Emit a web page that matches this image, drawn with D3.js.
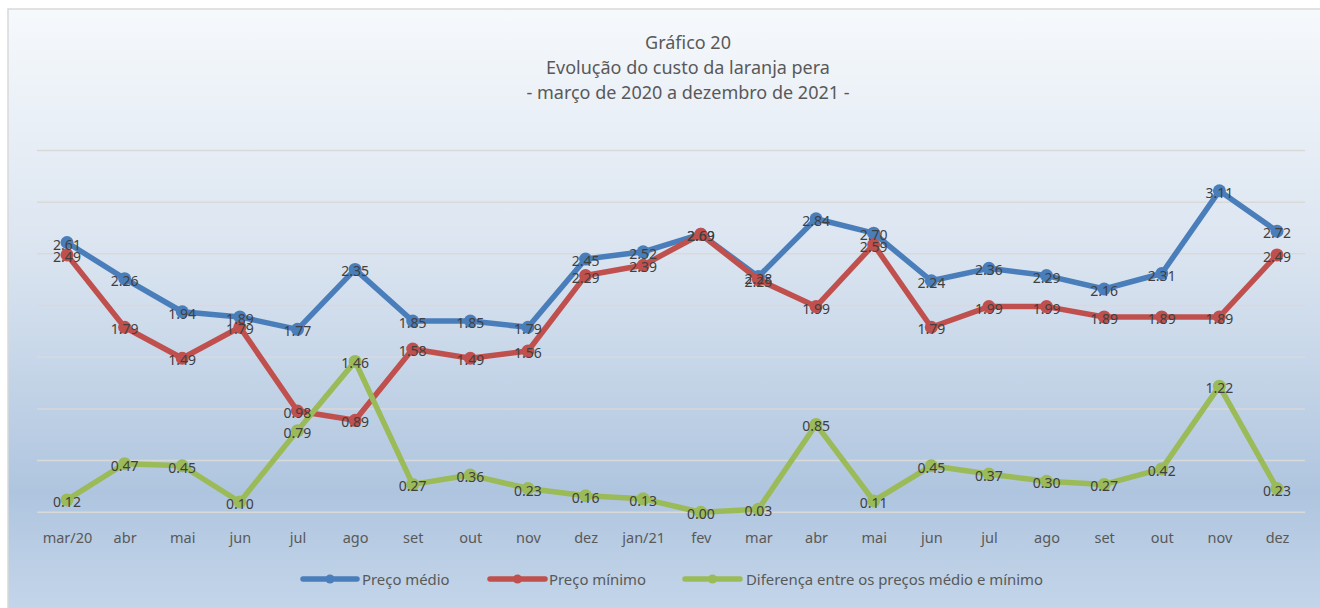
<!DOCTYPE html>
<html><head><meta charset="utf-8">
<script src="https://cdn.jsdelivr.net/npm/d3@7"></script>
<style>body{margin:0;background:#fff;}svg{display:block;}</style>
</head><body>
<svg id="c" width="1320" height="608"></svg>
<script>
const categories = ["mar/20","abr","mai","jun","jul","ago","set","out","nov","dez","jan/21","fev","mar","abr","mai","jun","jul","ago","set","out","nov","dez"];
const precoMedio = [2.61,2.26,1.94,1.89,1.77,2.35,1.85,1.85,1.79,2.45,2.52,2.69,2.28,2.84,2.70,2.24,2.36,2.29,2.16,2.31,3.11,2.72];
const precoMinimo = [2.49,1.79,1.49,1.79,0.98,0.89,1.58,1.49,1.56,2.29,2.39,2.69,2.25,1.99,2.59,1.79,1.99,1.99,1.89,1.89,1.89,2.49];
const diferenca = [0.12,0.47,0.45,0.10,0.79,1.46,0.27,0.36,0.23,0.16,0.13,0.00,0.03,0.85,0.11,0.45,0.37,0.30,0.27,0.42,1.22,0.23];
const seriesNames = ["Preço médio","Preço mínimo","Diferença entre os preços médio e mínimo"];
const seriesColors = ["#4a7ebb","#c0504d","#9bbb59"];
const yTicks = [0,0.5,1,1.5,2,2.5,3,3.5];
const titleLines = ["Gráfico 20","Evolução do custo da laranja pera","- março de 2020 a dezembro de 2021 -"];

const svg = d3.select("#c");
const font = "'Noto Sans', 'Open Sans', sans-serif";
const defs = svg.append("defs");
const grad = defs.append("linearGradient").attr("id","bg").attr("x1",0).attr("y1",0).attr("x2",0).attr("y2",1);
grad.append("stop").attr("offset","0%").attr("stop-color","#f6f9fc");
grad.append("stop").attr("offset","40%").attr("stop-color","#dae4f0");
grad.append("stop").attr("offset","78%").attr("stop-color","#afc5df");
grad.append("stop").attr("offset","100%").attr("stop-color","#c7d8eb");

svg.append("rect").attr("x",8).attr("y",9).attr("width",1330).attr("height",620)
  .attr("fill","url(#bg)").attr("stroke","#d9d9d9").attr("stroke-width",1.5);

// title
svg.append("g").selectAll("text").data(titleLines).join("text")
  .attr("x",688).attr("y",(d,i)=>42+i*25).attr("text-anchor","middle")
  .attr("dominant-baseline","central")
  .attr("font-family",font).attr("font-size",18).attr("fill","#595959").text(d=>d);

const x = d3.scalePoint().domain(d3.range(categories.length)).range([67,1277]);
const y = d3.scaleLinear().domain([0,3.5]).range([512.3,150.5]);

// gridlines
svg.append("g").selectAll("line").data(yTicks).join("line")
  .attr("x1",37).attr("x2",1305).attr("y1",d=>y(d)).attr("y2",d=>y(d))
  .attr("stroke","#d9d9d9").attr("stroke-width",1.5);

// x axis
const xAxis = d3.axisBottom(x).tickSize(0).tickPadding(0).tickFormat(i=>categories[i]);
const gx = svg.append("g").attr("transform","translate(0,537)").call(xAxis);
gx.select(".domain").remove();
gx.selectAll("text").attr("dy",null).attr("dominant-baseline","central")
  .attr("font-family",font).attr("font-size",14.5).attr("fill","#595959");

const allSeries = [precoMedio, precoMinimo, diferenca];
const line = d3.line().x((d,i)=>x(i)).y(d=>y(d));

allSeries.forEach((vals,s)=>{
  const g = svg.append("g");
  g.append("path").datum(vals).attr("d",line).attr("fill","none")
    .attr("stroke",seriesColors[s]).attr("stroke-width",5.5).attr("stroke-linejoin","round");
  g.selectAll("circle").data(vals).join("circle")
    .attr("cx",(d,i)=>x(i)).attr("cy",d=>y(d)).attr("r",6.5).attr("fill",seriesColors[s]);
});
allSeries.forEach((vals,s)=>{
  svg.append("g").selectAll("text").data(vals).join("text")
    .attr("x",(d,i)=>x(i)).attr("y",d=>y(d)+1.5).attr("text-anchor","middle")
    .attr("dominant-baseline","central").attr("font-family",font).attr("font-size",14)
    .attr("fill","#404040").text(d=>d.toFixed(2));
});

// legend
const legend = [{x1:303,x2:357,tx:362},{x1:490,x2:545,tx:549},{x1:685,x2:740,tx:746}];
legend.forEach((L,s)=>{
  const g = svg.append("g");
  g.append("line").attr("x1",L.x1).attr("x2",L.x2).attr("y1",579).attr("y2",579)
    .attr("stroke",seriesColors[s]).attr("stroke-width",5.5).attr("stroke-linecap","round");
  g.append("circle").attr("cx",(L.x1+L.x2)/2).attr("cy",579).attr("r",4.5).attr("fill",seriesColors[s]);
  g.append("text").attr("x",L.tx).attr("y",579).attr("dominant-baseline","central")
    .attr("font-family",font).attr("font-size",14.9).attr("fill","#595959").text(seriesNames[s]);
});
</script>
</body></html>
